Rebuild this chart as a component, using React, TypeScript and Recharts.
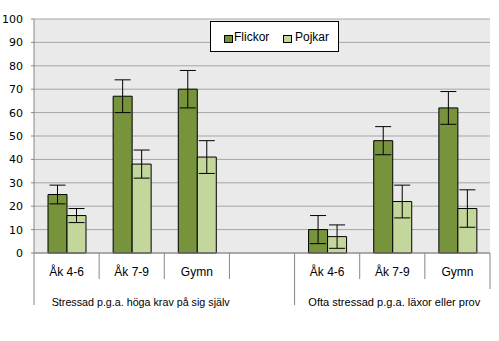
import React from "react";
import { BarChart, Bar, XAxis, YAxis, CartesianGrid, ErrorBar, Legend } from "recharts";

const categories = ["Åk 4-6", "Åk 7-9", "Gymn", "", "Åk 4-6", "Åk 7-9", "Gymn"];
const flickor: (number | null)[] = [25, 67, 70, null, 10, 48, 62];
const flickorErr: (number | null)[] = [4, 7, 8, null, 6, 6, 7];
const pojkar: (number | null)[] = [16, 38, 41, null, 7, 22, 19];
const pojkarErr: (number | null)[] = [3, 6, 7, null, 5, 7, 8];
const groups = ["Stressad p.g.a. höga krav på sig själv", "Ofta stressad p.g.a. läxor eller prov"];
const yTicks = [0, 10, 20, 30, 40, 50, 60, 70, 80, 90, 100];

const data = categories.map((c, i) => ({
  cat: c,
  Flickor: flickor[i],
  fErr: flickorErr[i],
  Pojkar: pojkar[i],
  pErr: pojkarErr[i],
}));

const FONT = "'Liberation Sans', Arial, sans-serif";
const AXIS_GRAY = "#868686";

const XTick = (props: any) => {
  const { x, y, payload } = props;
  const index = payload.index as number;
  const half = payload.offset && payload.offset > 0 ? payload.offset : 456 / 14;
  const x0 = x - half;
  const long = index === 0 || index === 4;
  const last = index === categories.length - 1;
  return (
    <g>
      <line x1={x0} y1={y} x2={x0} y2={y + (long ? 52 : 26)} stroke={AXIS_GRAY} strokeWidth={1} />
      {last && <line x1={x + half} y1={y} x2={x + half} y2={y + 36} stroke={AXIS_GRAY} strokeWidth={1} />}
      <text x={x} y={y + 22.5} textAnchor="middle" fontFamily={FONT} fontSize={12} fill="#000">
        {payload.value}
      </text>
      {index === 1 && (
        <text x={x + 9} y={y + 53} textAnchor="middle" fontFamily={FONT} fontSize={11.5} fill="#000" textLength={178} lengthAdjust="spacingAndGlyphs">
          {groups[0]}
        </text>
      )}
      {index === 5 && (
        <text x={x + 2} y={y + 53} textAnchor="middle" fontFamily={FONT} fontSize={11.5} fill="#000" textLength={172} lengthAdjust="spacingAndGlyphs">
          {groups[1]}
        </text>
      )}
    </g>
  );
};

const LegendContent = () => (
  <div
    style={{
      width: 127,
      height: 29,
      border: "1px solid #000",
      background: "#fff",
      boxSizing: "content-box",
      position: "relative",
      fontFamily: FONT,
      fontSize: 12,
    }}
  >
    <div style={{ position: "absolute", left: 13, top: 13, width: 7, height: 6, background: "#77933C", border: "1px solid #000" }} />
    <div style={{ position: "absolute", left: 23, top: 7, color: "#000", lineHeight: "16px" }}>Flickor</div>
    <div style={{ position: "absolute", left: 72, top: 13, width: 7, height: 6, background: "#C3D69B", border: "1px solid #000" }} />
    <div style={{ position: "absolute", left: 84, top: 7, color: "#000", lineHeight: "16px" }}>Pojkar</div>
  </div>
);

export default function App() {
  return (
    <div style={{ position: "absolute", left: 0, top: 0, width: 499, height: 341, background: "#fff" }}>
      <BarChart
        width={499}
        height={341}
        data={data}
        margin={{ top: 19, right: 9, left: 0, bottom: 28 }}
        barCategoryGap="21.5%"
        barGap={0}
      >
        <CartesianGrid vertical={false} stroke="#A6A6A6" fill="#EAEAEA" />
        <XAxis
          dataKey="cat"
          interval={0}
          height={60}
          tickLine={false}
          tickSize={0}
          tickMargin={0}
          axisLine={{ stroke: AXIS_GRAY }}
          tick={<XTick />}
        />
        <YAxis
          width={34}
          domain={[0, 100]}
          ticks={yTicks}
          interval={0}
          tickSize={3}
          tickMargin={8}
          axisLine={{ stroke: AXIS_GRAY }}
          tickLine={{ stroke: AXIS_GRAY }}
          tick={{ fontFamily: "'DejaVu Sans', Verdana, sans-serif", fontSize: 11, fill: "#000" }}
        />
        <Legend
          layout="horizontal"
          verticalAlign="middle"
          align="center"
          content={<LegendContent />}
          wrapperStyle={{ left: 210, top: 21, width: 129, height: 31 }}
        />
        <Bar dataKey="Flickor" fill="#77933C" stroke="#000" strokeWidth={1} isAnimationActive={false}>
          <ErrorBar dataKey="fErr" width={8} stroke="#000" strokeWidth={1} isAnimationActive={false} />
        </Bar>
        <Bar dataKey="Pojkar" fill="#C3D69B" stroke="#000" strokeWidth={1} isAnimationActive={false}>
          <ErrorBar dataKey="pErr" width={8} stroke="#000" strokeWidth={1} isAnimationActive={false} />
        </Bar>
      </BarChart>
    </div>
  );
}
